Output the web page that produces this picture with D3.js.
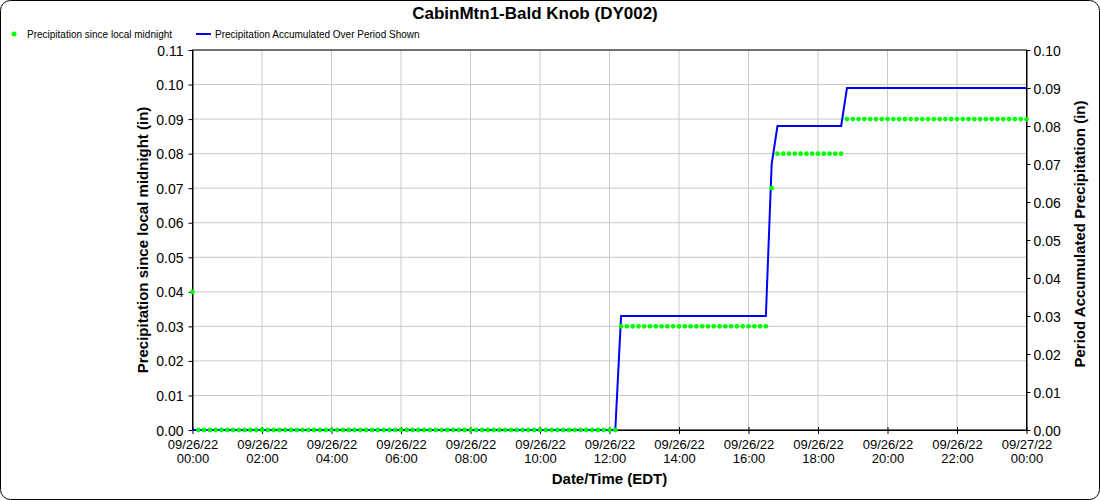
<!DOCTYPE html>
<html>
<head>
<meta charset="utf-8">
<script src="https://cdn.jsdelivr.net/npm/d3@7"></script>
<style>
  body { margin: 0; background: #fff; }
  text { font-family: "Liberation Sans", Arial, sans-serif; fill: #000; }
</style>
</head>
<body>
<div id="chart"></div>
<script>
// readings every 10 minutes, 09/26/22 00:00 -> 09/27/22 00:00
var startTime = new Date(2022, 8, 26, 0, 0);
var stepMinutes = 10;

// Precipitation since local midnight (in), left axis
var sinceMidnight = [
  0.04, 0, 0, 0, 0, 0,            // 00
  0, 0, 0, 0, 0, 0,               // 01
  0, 0, 0, 0, 0, 0,               // 02
  0, 0, 0, 0, 0, 0,               // 03
  0, 0, 0, 0, 0, 0,               // 04
  0, 0, 0, 0, 0, 0,               // 05
  0, 0, 0, 0, 0, 0,               // 06
  0, 0, 0, 0, 0, 0,               // 07
  0, 0, 0, 0, 0, 0,               // 08
  0, 0, 0, 0, 0, 0,               // 09
  0, 0, 0, 0, 0, 0,               // 10
  0, 0, 0, 0, 0, 0,               // 11
  0, 0, 0.03, 0.03, 0.03, 0.03,   // 12
  0.03, 0.03, 0.03, 0.03, 0.03, 0.03, // 13
  0.03, 0.03, 0.03, 0.03, 0.03, 0.03, // 14
  0.03, 0.03, 0.03, 0.03, 0.03, 0.03, // 15
  0.03, 0.03, 0.03, 0.03, 0.07, 0.08, // 16
  0.08, 0.08, 0.08, 0.08, 0.08, 0.08, // 17
  0.08, 0.08, 0.08, 0.08, 0.08, 0.09, // 18
  0.09, 0.09, 0.09, 0.09, 0.09, 0.09, // 19
  0.09, 0.09, 0.09, 0.09, 0.09, 0.09, // 20
  0.09, 0.09, 0.09, 0.09, 0.09, 0.09, // 21
  0.09, 0.09, 0.09, 0.09, 0.09, 0.09, // 22
  0.09, 0.09, 0.09, 0.09, 0.09, 0.09, // 23
  0.09                                // 24
];

// Precipitation accumulated over period shown (in), right axis
var periodAccum = [
  0, 0, 0, 0, 0, 0,
  0, 0, 0, 0, 0, 0,
  0, 0, 0, 0, 0, 0,
  0, 0, 0, 0, 0, 0,
  0, 0, 0, 0, 0, 0,
  0, 0, 0, 0, 0, 0,
  0, 0, 0, 0, 0, 0,
  0, 0, 0, 0, 0, 0,
  0, 0, 0, 0, 0, 0,
  0, 0, 0, 0, 0, 0,
  0, 0, 0, 0, 0, 0,
  0, 0, 0, 0, 0, 0,
  0, 0, 0.03, 0.03, 0.03, 0.03,
  0.03, 0.03, 0.03, 0.03, 0.03, 0.03,
  0.03, 0.03, 0.03, 0.03, 0.03, 0.03,
  0.03, 0.03, 0.03, 0.03, 0.03, 0.03,
  0.03, 0.03, 0.03, 0.03, 0.07, 0.08,
  0.08, 0.08, 0.08, 0.08, 0.08, 0.08,
  0.08, 0.08, 0.08, 0.08, 0.08, 0.09,
  0.09, 0.09, 0.09, 0.09, 0.09, 0.09,
  0.09, 0.09, 0.09, 0.09, 0.09, 0.09,
  0.09, 0.09, 0.09, 0.09, 0.09, 0.09,
  0.09, 0.09, 0.09, 0.09, 0.09, 0.09,
  0.09, 0.09, 0.09, 0.09, 0.09, 0.09,
  0.09
];

var leftTicks = [0, 0.01, 0.02, 0.03, 0.04, 0.05, 0.06, 0.07, 0.08, 0.09, 0.10, 0.11];
var rightTicks = [0, 0.01, 0.02, 0.03, 0.04, 0.05, 0.06, 0.07, 0.08, 0.09, 0.10];
var xTickHours = [0, 2, 4, 6, 8, 10, 12, 14, 16, 18, 20, 22, 24];

var title = "CabinMtn1-Bald Knob (DY002)";
var leftLabel = "Precipitation since local midnight (in)";
var rightLabel = "Period Accumulated Precipitation (in)";
var xLabel = "Date/Time (EDT)";
var legendNames = ["Precipitation since local midnight", "Precipitation Accumulated Over Period Shown"];

var W = 1100, H = 500;
var margin = { top: 50, right: 73.5, bottom: 70, left: 192.5 },
width = W - margin.left - margin.right,
height = H - margin.top - margin.bottom;

function timeAt(i) { return new Date(startTime.getTime() + i * stepMinutes * 60000); }

var x = d3.scaleTime()
.domain([startTime, timeAt(144)])
.range([0, width]);
var yL = d3.scaleLinear().domain([0, 0.11]).range([height, 0]);
var yR = d3.scaleLinear().domain([0, 0.10]).range([height, 0]);

var root = d3.select("#chart").append("svg")
.attr("width", W)
.attr("height", H);

// outer frame
root.append("rect")
.attr("x", 0.5).attr("y", 0.5)
.attr("width", W - 1).attr("height", H - 1)
.attr("rx", 10).attr("ry", 10)
.attr("fill", "#fff").attr("stroke", "#000");

root.append("text")
.attr("x", 535).attr("y", 19)
.attr("text-anchor", "middle")
.style("font-size", "17px").style("font-weight", "bold")
.text(title);

// legend
var leg = root.append("g").attr("transform", "translate(0,34)");
leg.append("circle").attr("cx", 14).attr("cy", 0).attr("r", 2.5).attr("fill", "#00ff00");
leg.append("text").attr("x", 27).attr("y", 3.5).style("font-size", "10px").text(legendNames[0]);
leg.append("line").attr("x1", 196).attr("x2", 211).attr("y1", 0).attr("y2", 0)
.attr("stroke", "#0000ff").attr("stroke-width", 2);
leg.append("text").attr("x", 215).attr("y", 3.5).style("font-size", "10px").text(legendNames[1]);

var svg = root.append("g")
.attr("transform", "translate(" + margin.left + "," + margin.top + ")");

// grid
svg.append("g")
.selectAll("line.v")
.data(xTickHours)
.enter().append("line")
.attr("x1", function (h) { return x(timeAt(h * 6)); })
.attr("x2", function (h) { return x(timeAt(h * 6)); })
.attr("y1", 0).attr("y2", height)
.attr("stroke", "#c8c8c8");
svg.append("g")
.selectAll("line.h")
.data(leftTicks)
.enter().append("line")
.attr("x1", 0).attr("x2", width)
.attr("y1", function (d) { return yL(d); })
.attr("y2", function (d) { return yL(d); })
.attr("stroke", "#c8c8c8");

// plot frame
svg.append("rect")
.attr("width", width).attr("height", height)
.attr("fill", "none").attr("stroke", "#000");

// axes
var fmtDate = d3.timeFormat("%m/%d/%y"), fmtTime = d3.timeFormat("%H:%M");
var xAxis = d3.axisBottom(x)
.tickValues(xTickHours.map(function (h) { return timeAt(h * 6); }))
.tickSizeInner(4).tickSizeOuter(0);
svg.append("g")
.attr("transform", "translate(0," + height + ")")
.call(customXAxis);

function customXAxis(g) {
  g.call(xAxis);
  g.select(".domain").attr("stroke", "#000");
  g.selectAll(".tick line").attr("y1", -3).attr("y2", 4).attr("stroke", "#000");
  g.selectAll(".tick text").each(function (d) {
    var t = d3.select(this).text(null).attr("y", 0).attr("dy", null)
    .style("font-size", "13px").style("font-family", null).attr("fill", "#000");
    t.append("tspan").attr("x", 0).attr("y", 18.5).text(fmtDate(d));
    t.append("tspan").attr("x", 0).attr("y", 33).text(fmtTime(d));
  });
}

var yAxisL = d3.axisLeft(yL).tickValues(leftTicks).tickFormat(d3.format(".2f")).tickSizeInner(4).tickSizeOuter(0);
var yAxisR = d3.axisRight(yR).tickValues(rightTicks).tickFormat(d3.format(".2f")).tickSizeInner(4).tickSizeOuter(0);

svg.append("g").call(customYAxis, yAxisL, -9);
svg.append("g").attr("transform", "translate(" + width + ",0)").call(customYAxis, yAxisR, 7);

function customYAxis(g, ax, dx) {
  g.call(ax);
  g.select(".domain").attr("stroke", "#000");
  g.selectAll(".tick line").attr("stroke", "#000");
  g.selectAll(".tick text").attr("x", dx).attr("dy", "0.36em")
  .style("font-size", "14px").style("font-family", null).attr("fill", "#000");
}

// axis titles
root.append("text")
.attr("transform", "translate(148," + (margin.top + height / 2) + ") rotate(-90)")
.attr("text-anchor", "middle")
.style("font-size", "15px").style("font-weight", "bold")
.text(leftLabel);
root.append("text")
.attr("transform", "translate(1085," + (margin.top + height / 2 - 6) + ") rotate(-90)")
.attr("text-anchor", "middle")
.style("font-size", "15px").style("font-weight", "bold")
.text(rightLabel);
root.append("text")
.attr("x", margin.left + width / 2).attr("y", 484)
.attr("text-anchor", "middle")
.style("font-size", "15px").style("font-weight", "bold")
.text(xLabel);

// accumulated line
var line = d3.line()
.x(function (d, i) { return x(timeAt(i)); })
.y(function (d) { return yR(d); });
svg.append("path")
.datum(periodAccum)
.attr("d", line)
.attr("fill", "none")
.attr("stroke", "#0000ff")
.attr("stroke-width", 2);

// since-midnight dots
svg.append("g")
.selectAll("circle")
.data(sinceMidnight)
.enter().append("circle")
.attr("cx", function (d, i) { return x(timeAt(i)); })
.attr("cy", function (d) { return yL(d); })
.attr("r", 2.4)
.attr("fill", "#00ff00");
</script>
</body>
</html>
